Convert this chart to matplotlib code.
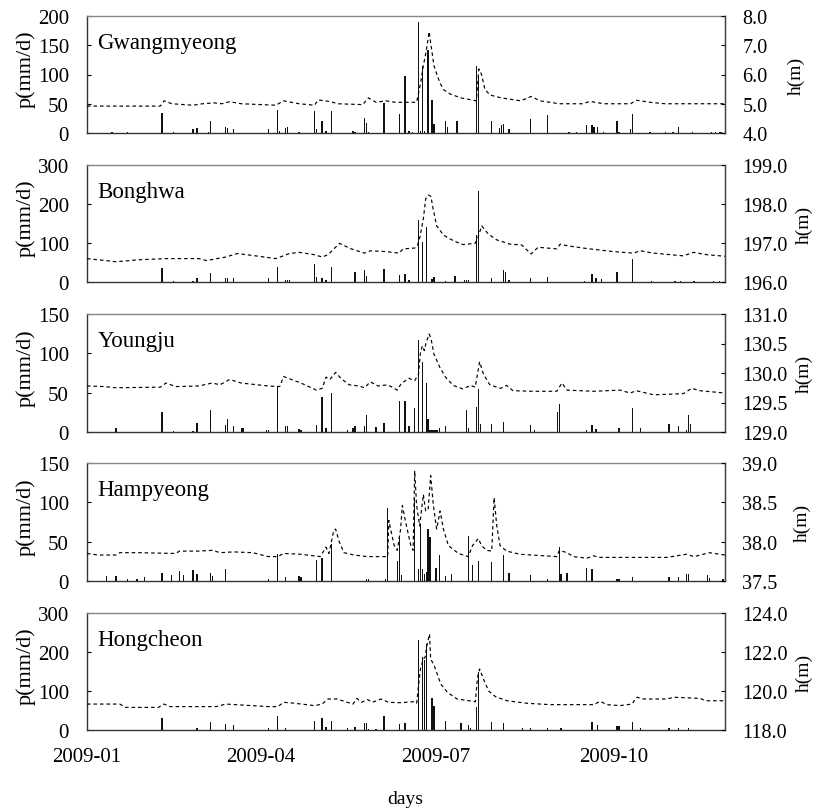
import numpy as np
import pandas as pd
import matplotlib
matplotlib.use('Agg')
import matplotlib.pyplot as plt
from matplotlib.ticker import FormatStrFormatter

plt.rcParams['font.family'] = ['Liberation Serif', 'DejaVu Serif']

# days are counted from 2009-01-01
# --- Gwangmyeong ---
gw_rain_day = [13, 21, 39, 45, 55, 57, 63, 64, 72, 73, 76, 94, 99, 100, 103, 104, 110, 118, 119, 122,
               124, 127, 138, 139, 144, 145, 146, 154, 162, 165, 167, 169, 172, 173, 174, 175, 177,
               179, 180, 186, 187, 192, 202, 203, 210, 214, 215, 216, 219, 230, 239, 250, 254, 259,
               262, 263, 265, 268, 275, 276, 282, 283, 292, 300, 304, 307, 314, 324, 326, 328, 329]
gw_rain_mm = [2, 1, 35, 1, 7, 9, 2, 20, 10, 8, 7, 7, 39, 3, 8, 11, 1, 38, 7, 21,
              4, 38, 4, 1, 26, 17, 2, 51, 32, 97, 3, 2, 190, 3, 115, 4, 142,
              56, 16, 21, 11, 21, 114, 95, 20, 8, 14, 15, 7, 24, 30, 2, 2, 13,
              13, 11, 10, 2, 20, 2, 7, 33, 2, 1, 2, 11, 1, 1, 1, 1, 1]
gw_lvl_day = [0, 38, 40, 44, 55, 60, 66, 70, 74, 80, 98, 102, 110, 118, 120, 126, 130, 143, 146, 150,
              155, 160, 171, 173, 174.5, 176, 177.5, 178.7, 180, 181, 183, 185, 188.5, 194, 202,
              203.3, 204.7, 206.4, 209, 215, 220, 225, 230.5, 235, 245, 257, 261, 268, 282, 285,
              292, 300, 331]
gw_lvl_m = [4.92, 4.92, 5.1, 5.0, 4.95, 5.0, 5.03, 5.0, 5.07, 5.0, 4.95, 5.1, 5.0, 4.95, 5.13, 5.08,
            5.0, 4.97, 5.2, 5.05, 5.1, 5.05, 5.05, 5.68, 6.3, 6.81, 7.46, 6.9, 6.3, 6.1, 5.73, 5.48,
            5.33, 5.2, 5.1, 6.19, 6.0, 5.5, 5.3, 5.2, 5.15, 5.1, 5.25, 5.1, 5.0, 5.0, 5.08, 5.0,
            5.0, 5.12, 5.05, 5.0, 5.0]

# --- Bonghwa ---
bh_rain_day = [39, 45, 55, 57, 64, 72, 73, 76, 94, 99, 103, 104, 105, 118, 119, 122, 124, 127, 139,
               144, 145, 154, 162, 165, 167, 172, 174, 176, 179, 180, 186, 191, 196, 197, 198, 202,
               203, 210, 216, 217, 219, 230, 239, 258, 262, 264, 267, 275, 283, 293, 305, 308, 315,
               325, 328]
bh_rain_mm = [36, 2, 2, 9, 24, 11, 10, 9, 11, 39, 5, 6, 4, 47, 14, 10, 4, 39, 26,
              32, 16, 34, 19, 21, 4, 160, 102, 142, 8, 12, 2, 16, 4, 5, 5, 120,
              234, 9, 30, 25, 4, 10, 12, 3, 21, 10, 8, 26, 60, 2, 2, 2, 2,
              2, 2]
bh_lvl_day = [0, 15, 27, 41, 58, 62, 72, 78, 86, 98, 105, 110, 118, 122, 125, 131, 137, 144, 147, 155,
              162, 164, 170, 171.4, 172.8, 174.5, 175.7, 177, 178.4, 179.6, 181.4, 185, 190, 195,
              201.3, 202.7, 204.8, 208.2, 212.6, 219.5, 225.5, 230.4, 234, 243.7, 245.5, 249, 259,
              273, 283.5, 287, 294, 309.4, 314.6, 321.6, 331]
bh_lvl_m = [196.6, 196.52, 196.57, 196.6, 196.6, 196.55, 196.64, 196.73, 196.68, 196.6, 196.73,
            196.76, 196.7, 196.64, 196.7, 196.99, 196.85, 196.74, 196.8, 196.78, 196.74, 196.85,
            196.87, 196.93, 197.17, 197.62, 198.13, 198.23, 198.2, 197.87, 197.44, 197.2, 197.06,
            196.96, 196.99, 197.12, 197.44, 197.23, 197.08, 196.97, 196.95, 196.72, 196.89, 196.85,
            196.97, 196.93, 196.86, 196.78, 196.74, 196.8, 196.74, 196.67, 196.76, 196.7, 196.66]

# --- Youngju ---
yj_rain_day = [15, 39, 45, 55, 57, 64, 72, 73, 76, 80, 81, 93, 94, 99, 103, 104, 110, 111, 119, 122,
               124, 127, 135, 138, 139, 144, 145, 150, 154, 162, 165, 167, 170, 172, 174, 176, 177,
               178, 179, 180, 181, 182, 183, 186, 197, 198, 202, 203, 204, 210, 216, 230, 232, 244,
               245, 259, 262, 264, 276, 283, 287, 302, 307, 311, 312, 313]
yj_rain_mm = [5.5, 25, 1, 1, 11, 28, 9, 17, 8, 5, 5, 3, 3, 58, 7, 8, 4, 3, 9, 45,
              5, 50, 3, 5, 7, 8, 22, 6, 12, 40, 40, 7, 31, 117, 89, 62, 17,
              3, 3, 3, 3, 3, 5, 8, 28, 5, 32, 55, 10, 10, 13, 9, 3, 25,
              36, 2, 9, 4, 5, 31, 5, 10, 8, 3, 22, 10]
yj_lvl_day = [0, 9, 15, 38, 41, 46, 58, 65, 69, 74, 80, 94, 100, 102, 106, 111, 119, 122, 124, 126,
              129, 132, 136, 141, 144, 147, 151, 156, 161, 163, 167, 170, 172, 173, 174, 175, 176,
              177.5, 178.5, 180, 183, 186, 190, 195, 199, 201.4, 203.7, 205.7, 209, 214.5, 217.7,
              221, 231.6, 243.7, 246.4, 249, 262.8, 276.6, 281.8, 285, 294, 309.4, 313.7, 318, 331]
yj_lvl_m = [129.78, 129.77, 129.75, 129.76, 129.83, 129.77, 129.78, 129.83, 129.8, 129.89, 129.83,
            129.78, 129.77, 129.94, 129.89, 129.83, 129.71, 129.74, 129.93, 129.89, 130.01, 129.9,
            129.8, 129.78, 129.75, 129.85, 129.78, 129.8, 129.71, 129.82, 129.91, 129.87, 129.98,
            130.35, 130.46, 130.38, 130.52, 130.66, 130.58, 130.32, 130.1, 129.93, 129.79, 129.73,
            129.79, 129.76, 130.19, 129.98, 129.8, 129.74, 129.79, 129.7, 129.69, 129.69, 129.83,
            129.71, 129.69, 129.71, 129.66, 129.7, 129.63, 129.65, 129.74, 129.7, 129.66]

# --- Hampyeong ---
hp_rain_day = [10, 15, 21, 26, 30, 39, 44, 48, 50, 55, 57, 64, 65, 72, 94, 99, 103, 110, 111, 119,
               122, 127, 145, 146, 155, 156, 161, 162, 163, 170, 172, 173, 174, 175, 176, 177, 178,
               181, 183, 186, 189, 198, 200, 203, 210, 216, 219, 230, 239, 245, 246, 249, 259, 262,
               275, 276, 283, 302, 307, 311, 312, 322, 323, 330]
hp_rain_mm = [6, 6, 3, 3, 5, 10, 8, 13, 8, 14, 9, 10, 6, 15, 2, 34, 5, 6, 5, 27,
              29, 47, 3, 2, 2, 93, 26, 57, 7, 106, 15, 72, 15, 9, 12, 66, 56,
              16, 33, 6, 9, 57, 20, 25, 24, 33, 10, 8, 3, 43, 9, 10, 16, 15,
              3, 3, 5, 5, 5, 9, 9, 8, 4, 3]
hp_lvl_day = [0, 6, 15, 17, 27, 46, 48, 58, 65, 69, 76, 86, 94, 99, 102, 111, 121, 124, 125.5, 128,
              129, 130.7, 133.3, 138.5, 145.5, 156, 156.6, 157.5, 159.4, 161, 162.7, 163.6, 165.3,
              168, 169.2, 170, 171, 172.6, 174.5, 175.7, 177, 178.3, 179.7, 181.4, 183.2, 184.9,
              187.5, 192.7, 197.8, 200, 203, 204.7, 207.3, 210, 211.2, 212.6, 214.3, 217.7, 224.6,
              243.7, 245.1, 249, 252.4, 259.3, 262.8, 266, 300.8, 311, 315, 322.8, 331]
hp_lvl_m = [37.85, 37.83, 37.83, 37.86, 37.86, 37.85, 37.88, 37.88, 37.89, 37.86, 37.87, 37.86,
            37.81, 37.81, 37.85, 37.84, 37.81, 37.93, 37.85, 38.14, 38.16, 38.01, 37.86, 37.83,
            37.81, 37.81, 38.27, 38.16, 37.95, 37.89, 38.16, 38.46, 38.25, 37.95, 37.89, 38.9,
            38.46, 38.2, 38.6, 38.39, 38.41, 38.84, 38.46, 38.16, 38.39, 38.16, 37.95, 37.85,
            37.81, 37.95, 38.04, 37.95, 37.89, 37.88, 38.56, 38.2, 37.95, 37.88, 37.84, 37.81,
            37.89, 37.86, 37.81, 37.79, 37.82, 37.8, 37.8, 37.84, 37.81, 37.86, 37.83]

# --- Hongcheon ---
hc_rain_day = [39, 57, 64, 72, 76, 94, 99, 103, 118, 122, 124, 127, 135, 139, 144, 145, 146, 150, 154,
               162, 165, 172, 174, 175, 176, 179, 180, 186, 194, 198, 199, 202, 203, 210, 216, 226,
               230, 239, 246, 262, 265, 275, 276, 283, 287, 302, 307, 312]
hc_rain_mm = [32, 6, 20, 15, 12, 4, 37, 5, 24, 30, 8, 24, 5, 8, 17, 17, 3, 3, 37,
              15, 17, 231, 186, 180, 220, 82, 62, 24, 17, 13, 4, 58, 148, 20, 17, 4,
              4, 4, 4, 20, 13, 11, 9, 21, 4, 4, 4, 4]
hc_lvl_day = [0, 17, 20, 37, 40, 43, 67, 72, 94, 99, 102, 107, 118, 122, 125, 129.6, 138, 140, 142.4,
              145.6, 148, 152.5, 156.4, 162.5, 169.6, 171, 172, 173, 174.5, 175.4, 176.3, 177.7,
              178.3, 180, 181.4, 183.5, 187, 192, 201.5, 202.6, 203.7, 205.7, 208.4, 211.9, 217.9,
              228.3, 240.4, 262.8, 266.3, 269.7, 276.6, 282.7, 285.3, 288.8, 300.9, 304.4, 318.2,
              320.8, 331]
hc_lvl_m = [119.33, 119.33, 119.16, 119.16, 119.33, 119.2, 119.2, 119.33, 119.2, 119.2, 119.42,
            119.38, 119.25, 119.33, 119.59, 119.59, 119.33, 119.62, 119.42, 119.56, 119.42, 119.59,
            119.42, 119.4, 119.45, 119.37, 120.27, 121.13, 121.64, 121.73, 122.32, 122.92, 121.64,
            121.33, 120.96, 120.36, 119.93, 119.59, 119.45, 120.7, 121.13, 120.61, 120.0, 119.71,
            119.5, 119.37, 119.3, 119.3, 119.47, 119.3, 119.25, 119.33, 119.68, 119.59, 119.59,
            119.68, 119.62, 119.5, 119.5]

stations = ['Gwangmyeong', 'Bonghwa', 'Youngju', 'Hampyeong', 'Hongcheon']
rain_days = [gw_rain_day, bh_rain_day, yj_rain_day, hp_rain_day, hc_rain_day]
rain_vals = [gw_rain_mm, bh_rain_mm, yj_rain_mm, hp_rain_mm, hc_rain_mm]
lvl_days = [gw_lvl_day, bh_lvl_day, yj_lvl_day, hp_lvl_day, hc_lvl_day]
lvl_vals = [gw_lvl_m, bh_lvl_m, yj_lvl_m, hp_lvl_m, hc_lvl_m]
p_ticks = [[0, 50, 100, 150, 200], [0, 100, 200, 300], [0, 50, 100, 150],
           [0, 50, 100, 150], [0, 100, 200, 300]]
h_ticks = [[4.0, 5.0, 6.0, 7.0, 8.0], [196.0, 197.0, 198.0, 199.0], [129.0, 129.5, 130.0, 130.5, 131.0],
           [37.5, 38.0, 38.5, 39.0], [118.0, 120.0, 122.0, 124.0]]
x_tick_days = [0, 90, 181, 273]
x_tick_labels = ['2009-01', '2009-04', '2009-07', '2009-10']

start = pd.Timestamp('2009-01-01')


def to_dates(days):
    return start + pd.to_timedelta(np.asarray(days, dtype=float), unit='D')


fig = plt.figure(figsize=(8.15, 8.12), dpi=100)
W, H = 815.0, 812.0
panel_px = [(17, 134), (166, 283), (315, 433), (464, 582), (614, 731)]
hlabel_px = [788, 796, 796, 794, 796]   # left edge of the h(m) label

for i, name in enumerate(stations):
    top, bot = panel_px[i]
    ax = fig.add_axes([87 / W, 1 - bot / H, 638 / W, (bot - top) / H])
    ax.bar(to_dates(rain_days[i]), rain_vals[i], width=0.7, color='#111', linewidth=0)
    ax.set_ylim(p_ticks[i][0], p_ticks[i][-1])
    ax.set_yticks(p_ticks[i])
    ax.set_xlim(to_dates([0])[0], to_dates([331])[0])
    ax.set_xticks(to_dates(x_tick_days))
    ax.set_xticklabels(x_tick_labels)
    ax.tick_params(axis='x', length=0, pad=12, labelsize=15, labelbottom=(i == 4))
    ax.tick_params(axis='y', direction='in', length=3, pad=13, labelsize=15)
    ax.set_ylabel('p(mm/d)', fontsize=16)
    ax.yaxis.set_label_coords(-0.081, 0.55)
    ax.text(0.016, 0.73, name, transform=ax.transAxes, fontsize=16.5, va='baseline')
    for k, s in ax.spines.items():
        s.set_linewidth(1.0)
        s.set_color('#888' if k == 'top' else '#333')

    ax2 = ax.twinx()
    ax2.plot(to_dates(lvl_days[i]), lvl_vals[i], color='black', linewidth=0.85,
             linestyle=(0, (3, 2.5)))
    ax2.set_ylim(h_ticks[i][0], h_ticks[i][-1])
    ax2.set_yticks(h_ticks[i])
    ax2.yaxis.set_major_formatter(FormatStrFormatter('%.1f'))
    ax2.tick_params(axis='y', direction='in', length=3, pad=12.5, labelsize=14.5)
    ax2.set_ylabel('h(m)', fontsize=14)
    ax2.yaxis.set_label_coords((hlabel_px[i] - 87) / 638, 0.5)
    for k in ['top', 'left', 'bottom']:
        ax2.spines[k].set_visible(False)
    ax2.spines['right'].set_color('#444')

fig.text(405 / W, 1 - 800 / H, 'days', ha='center', va='center', fontsize=14)

fig.savefig('out.png', dpi=100)
